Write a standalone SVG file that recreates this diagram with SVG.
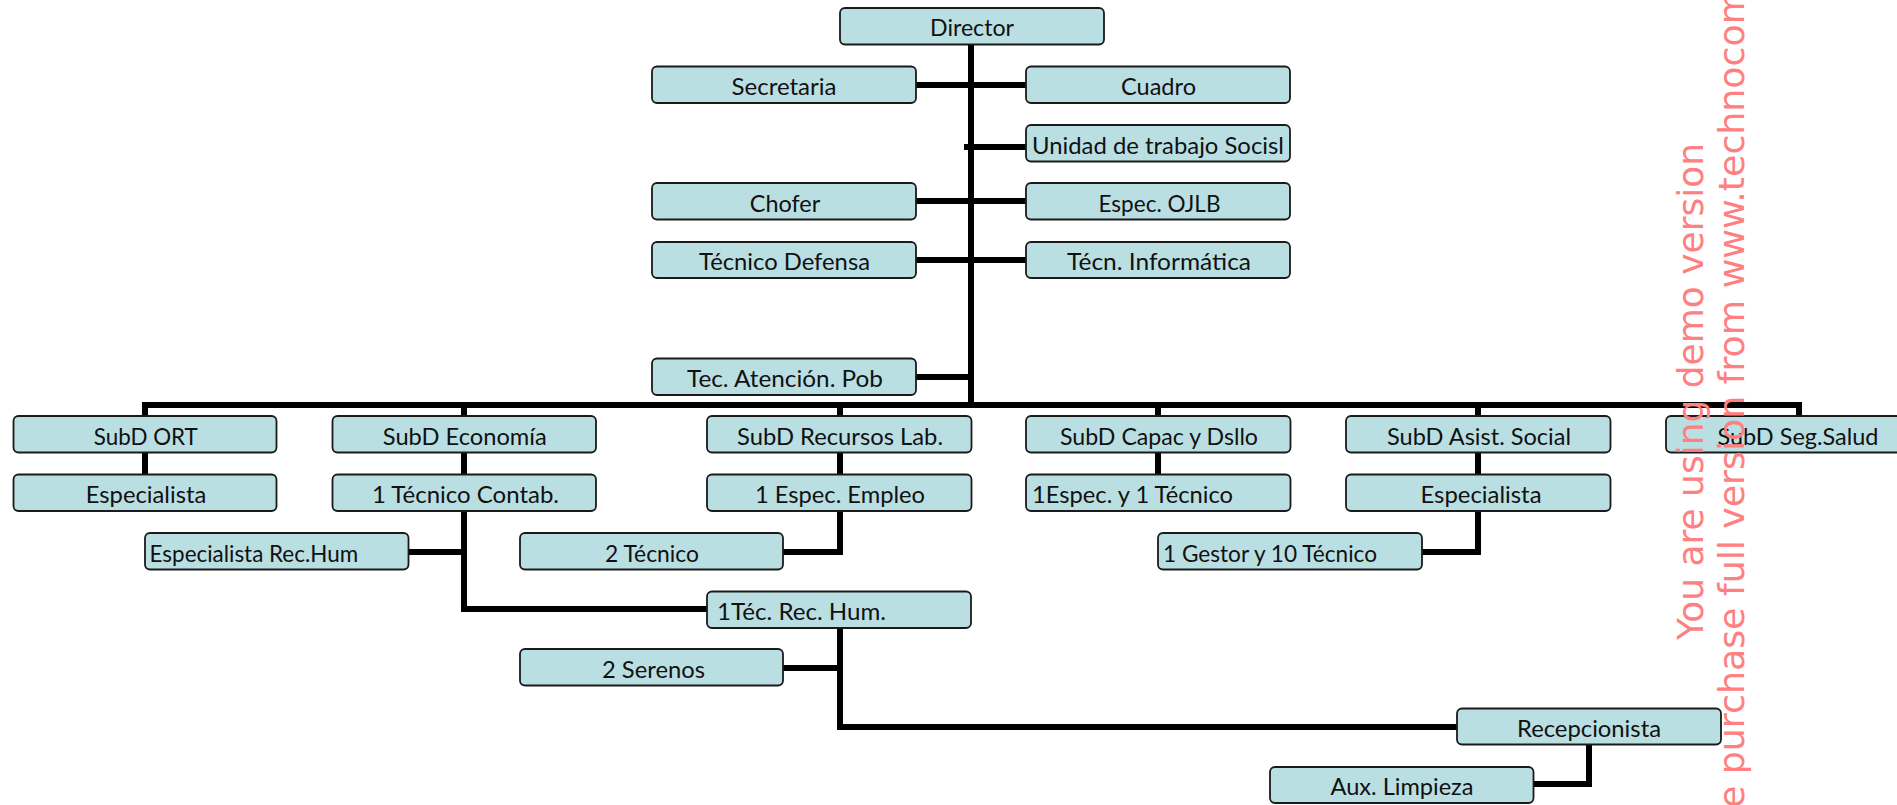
<svg xmlns="http://www.w3.org/2000/svg" width="1897" height="805" viewBox="0 0 1897 805">
<style>
.b{fill:#badfe3;stroke:#1a1a1a;stroke-width:1.8}
.t{font-family:Lato,"Liberation Sans",sans-serif;font-size:23px;fill:#111}
.c{text-anchor:middle}
.ln{fill:none;stroke:#000;stroke-width:6;stroke-linejoin:miter}
.wm{font-family:"DejaVu Sans",sans-serif;font-size:36px;fill:#ff8080}
</style>
<rect width="1897" height="805" fill="#fff"/>
<g id="connectors" class="ln">
<path d="M971 44V405"/>
<path d="M145 416V405H1799V416"/>
<path d="M464 405V416M840 405V416M1158 405V416M1478 405V416"/>
<path d="M916 85H1026"/>
<path d="M964 147H1026"/>
<path d="M916 201H1026"/>
<path d="M916 260H1026"/>
<path d="M916 377H971"/>
<path d="M145 452V474"/>
<path d="M464 452V474"/>
<path d="M464 510V609H707"/>
<path d="M408 552H464"/>
<path d="M840 452V474"/>
<path d="M840 510V552H783"/>
<path d="M1158 452V474"/>
<path d="M1478 452V474"/>
<path d="M1478 510V552H1422"/>
<path d="M840 628V727H1457"/>
<path d="M783 668H840"/>
<path d="M1589 744V784H1533"/>
</g>
<g id="n-director"><rect class="b" x="840" y="8" width="264" height="36.5" rx="5"/><text class="t c" x="972" y="36" textLength="84" lengthAdjust="spacingAndGlyphs">Director</text></g>
<g id="n-secretaria"><rect class="b" x="652" y="66.5" width="264" height="36.5" rx="5"/><text class="t c" x="784" y="95" textLength="105" lengthAdjust="spacingAndGlyphs">Secretaria</text></g>
<g id="n-cuadro"><rect class="b" x="1026" y="66.5" width="264" height="36.5" rx="5"/><text class="t c" x="1158.5" y="95" textLength="75" lengthAdjust="spacingAndGlyphs">Cuadro</text></g>
<g id="n-unidad"><rect class="b" x="1026" y="125" width="264" height="36.5" rx="5"/><text class="t" x="1032" y="153.5" textLength="252" lengthAdjust="spacingAndGlyphs">Unidad de trabajo Socisl</text></g>
<g id="n-chofer"><rect class="b" x="652" y="183" width="264" height="36.5" rx="5"/><text class="t c" x="785" y="211.5" textLength="70.5" lengthAdjust="spacingAndGlyphs">Chofer</text></g>
<g id="n-ojlb"><rect class="b" x="1026" y="183" width="264" height="36.5" rx="5"/><text class="t c" x="1159.5" y="211.5" textLength="122" lengthAdjust="spacingAndGlyphs">Espec. OJLB</text></g>
<g id="n-defensa"><rect class="b" x="652" y="242" width="264" height="36" rx="5"/><text class="t c" x="784.5" y="270" textLength="171" lengthAdjust="spacingAndGlyphs">Técnico Defensa</text></g>
<g id="n-informatica"><rect class="b" x="1026" y="242" width="264" height="36" rx="5"/><text class="t c" x="1159" y="270" textLength="184" lengthAdjust="spacingAndGlyphs">Técn. Informática</text></g>
<g id="n-atencion"><rect class="b" x="652" y="358.5" width="264" height="36.5" rx="5"/><text class="t c" x="785" y="387" textLength="196" lengthAdjust="spacingAndGlyphs">Tec. Atención. Pob</text></g>
<g id="n-ort"><rect class="b" x="13.5" y="416" width="263" height="36.5" rx="5"/><text class="t c" x="145.8" y="444.5" textLength="104" lengthAdjust="spacingAndGlyphs">SubD ORT</text></g>
<g id="n-ort-esp"><rect class="b" x="13.5" y="474.5" width="263" height="36.5" rx="5"/><text class="t c" x="146" y="502.5" textLength="120.5" lengthAdjust="spacingAndGlyphs">Especialista</text></g>
<g id="n-eco"><rect class="b" x="332.5" y="416" width="263.5" height="36.5" rx="5"/><text class="t c" x="464.8" y="444.5" textLength="164" lengthAdjust="spacingAndGlyphs">SubD Economía</text></g>
<g id="n-contab"><rect class="b" x="332.5" y="474.5" width="263.5" height="36.5" rx="5"/><text class="t c" x="465.5" y="502.5" textLength="187" lengthAdjust="spacingAndGlyphs">1 Técnico Contab.</text></g>
<g id="n-esprechum"><rect class="b" x="145" y="533" width="263.5" height="36.5" rx="5"/><text class="t" x="149.6" y="561.5" textLength="208.5" lengthAdjust="spacingAndGlyphs">Especialista Rec.Hum</text></g>
<g id="n-reclab"><rect class="b" x="707" y="416" width="264.5" height="36.5" rx="5"/><text class="t c" x="840" y="444.5" textLength="206" lengthAdjust="spacingAndGlyphs">SubD Recursos Lab.</text></g>
<g id="n-empleo"><rect class="b" x="707" y="474.5" width="264.5" height="36.5" rx="5"/><text class="t c" x="840" y="502.5" textLength="170" lengthAdjust="spacingAndGlyphs">1 Espec. Empleo</text></g>
<g id="n-2tecnico"><rect class="b" x="520" y="533" width="263" height="36.5" rx="5"/><text class="t c" x="652" y="561.5" textLength="94" lengthAdjust="spacingAndGlyphs">2 Técnico</text></g>
<g id="n-tecrechum"><rect class="b" x="707" y="591.5" width="264" height="36.5" rx="5"/><text class="t" x="717" y="619.5" textLength="169" lengthAdjust="spacingAndGlyphs">1Téc. Rec. Hum.</text></g>
<g id="n-serenos"><rect class="b" x="520" y="649" width="263" height="36.5" rx="5"/><text class="t c" x="653.5" y="677.5" textLength="103" lengthAdjust="spacingAndGlyphs">2 Serenos</text></g>
<g id="n-capac"><rect class="b" x="1026" y="416" width="264.5" height="36.5" rx="5"/><text class="t c" x="1159" y="444.5" textLength="198" lengthAdjust="spacingAndGlyphs">SubD Capac y Dsllo</text></g>
<g id="n-espectec"><rect class="b" x="1026" y="474.5" width="264.5" height="36.5" rx="5"/><text class="t" x="1032" y="502.5" textLength="201" lengthAdjust="spacingAndGlyphs">1Espec. y 1 Técnico</text></g>
<g id="n-asist"><rect class="b" x="1346" y="416" width="264.5" height="36.5" rx="5"/><text class="t c" x="1479" y="444.5" textLength="184" lengthAdjust="spacingAndGlyphs">SubD Asist. Social</text></g>
<g id="n-asist-esp"><rect class="b" x="1346" y="474.5" width="264.5" height="36.5" rx="5"/><text class="t c" x="1481" y="502.5" textLength="121" lengthAdjust="spacingAndGlyphs">Especialista</text></g>
<g id="n-gestor"><rect class="b" x="1158" y="533" width="264" height="36.5" rx="5"/><text class="t" x="1163" y="561.5" textLength="214" lengthAdjust="spacingAndGlyphs">1 Gestor y 10 Técnico</text></g>
<g id="n-salud"><rect class="b" x="1666" y="416" width="264" height="36.5" rx="5"/><text class="t c" x="1798" y="444.5" textLength="161" lengthAdjust="spacingAndGlyphs">SubD Seg.Salud</text></g>
<g id="n-recep"><rect class="b" x="1457" y="708.5" width="264" height="36" rx="5"/><text class="t c" x="1589" y="736.5" textLength="144" lengthAdjust="spacingAndGlyphs">Recepcionista</text></g>
<g id="n-limpieza"><rect class="b" x="1270" y="767" width="263.5" height="36" rx="5"/><text class="t c" x="1402" y="795" textLength="143" lengthAdjust="spacingAndGlyphs">Aux. Limpieza</text></g>
<g id="watermark">
<text class="wm" transform="translate(1702.5 640) rotate(-90)" textLength="497" lengthAdjust="spacingAndGlyphs">You are using demo version</text>
<text class="wm" transform="translate(1744 808) rotate(-90)" textLength="819" lengthAdjust="spacingAndGlyphs">e purchase full version from www.technocom</text>
</g>
</svg>
